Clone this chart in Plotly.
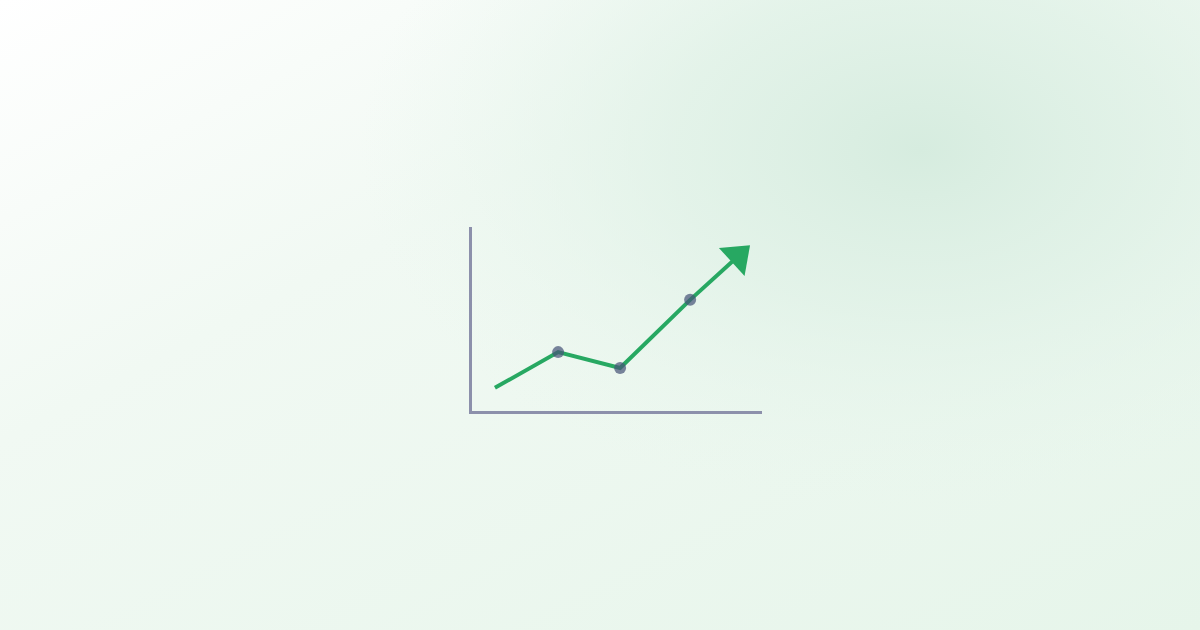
import base64
import plotly.graph_objects as go

# Data (chart units)
x_vals = [0.37, 1.39, 2.39, 3.52, 4.29]
y_vals = [0.63, 1.60, 1.17, 3.02, 4.20]
marker_idx = [1, 2, 3]

W, H = 1200, 630
GREEN = "#27a862"
AXIS = "#8c90ab"
DOT = "rgba(72,84,120,0.72)"

# Background gradient as SVG image
svg = f'''<svg xmlns="http://www.w3.org/2000/svg" width="{W}" height="{H}" viewBox="0 0 {W} {H}">
<defs>
<linearGradient id="lg" x1="0" y1="0" x2="1" y2="1">
<stop offset="0" stop-color="#ffffff"/>
<stop offset="0.35" stop-color="#f1f9f3"/>
<stop offset="1" stop-color="#e6f5ea"/>
</linearGradient>
<radialGradient id="rg" gradientUnits="userSpaceOnUse" cx="920" cy="150" r="560" gradientTransform="translate(920 150) scale(1 0.65) translate(-920 -150)">
<stop offset="0" stop-color="#d6ecdf" stop-opacity="1"/>
<stop offset="0.45" stop-color="#dff1e6" stop-opacity="0.75"/>
<stop offset="1" stop-color="#e8f6ed" stop-opacity="0"/>
</radialGradient>
</defs>
<rect width="{W}" height="{H}" fill="url(#lg)"/>
<rect width="{W}" height="{H}" fill="url(#rg)"/>
</svg>'''
src = "data:image/svg+xml;base64," + base64.b64encode(svg.encode()).decode()

fig = go.Figure()
fig.add_trace(go.Scatter(
    x=x_vals, y=y_vals, mode="lines",
    line=dict(color=GREEN, width=4),
    hoverinfo="skip", showlegend=False,
))
fig.add_trace(go.Scatter(
    x=x_vals[-2:], y=y_vals[-2:], mode="markers",
    marker=dict(symbol="triangle-up", size=[0, 33], opacity=1,
                color=GREEN, angleref="previous", line=dict(width=0)),
    hoverinfo="skip", showlegend=False,
))
fig.add_trace(go.Scatter(
    x=[x_vals[i] for i in marker_idx], y=[y_vals[i] for i in marker_idx],
    mode="markers",
    marker=dict(size=12, color=DOT, line=dict(width=0)),
    hoverinfo="skip", showlegend=False,
))

fig.update_layout(
    width=W, height=H,
    margin=dict(l=0, r=0, t=0, b=0),
    paper_bgcolor="#ffffff",
    plot_bgcolor="rgba(0,0,0,0)",
    images=[dict(source=src, xref="paper", yref="paper", x=0, y=1,
                 sizex=1, sizey=1, sizing="stretch", layer="below",
                 xanchor="left", yanchor="top")],
    xaxis=dict(domain=[472 / W, 762 / W], range=[0, 4.68],
               showline=True, linecolor=AXIS, linewidth=3,
               showgrid=False, zeroline=False, showticklabels=False, ticks=""),
    yaxis=dict(domain=[(H - 411) / H, (H - 227) / H], range=[0, 5],
               showline=True, linecolor=AXIS, linewidth=3,
               showgrid=False, zeroline=False, showticklabels=False, ticks=""),
)

fig.write_html("out.html", config={"displayModeBar": False},
               post_script="document.body.style.margin='0';")
